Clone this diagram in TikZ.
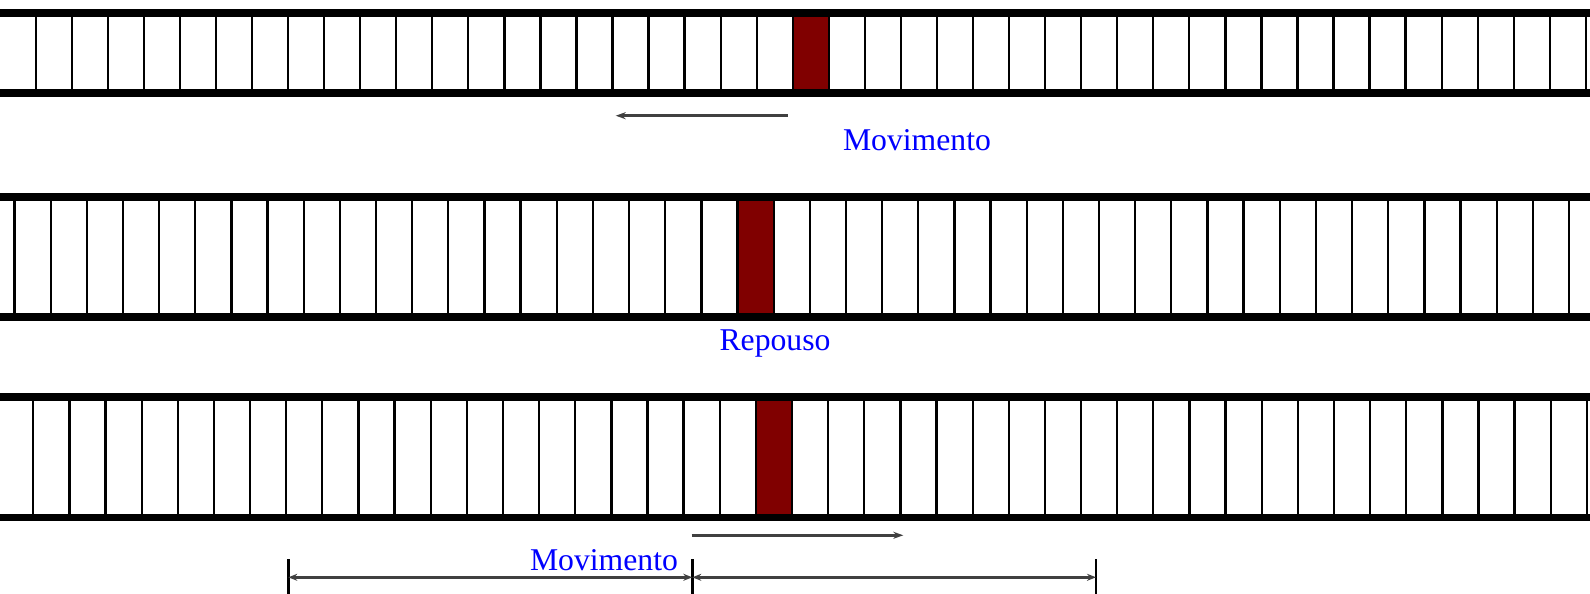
\documentclass[tikz,border=0pt]{standalone}
\usepackage{fontspec}
\setmainfont{Liberation Serif}
\usetikzlibrary{arrows.meta}
\definecolor{cellred}{RGB}{128,0,0}
\definecolor{arrgray}{RGB}{64,64,64}
\definecolor{lblue}{RGB}{0,0,255}
\tikzset{
 bar/.style={line width=7.6pt},
 rung/.style={line width=2.3pt},
 mover/.style={arrgray, line width=2.5pt, -{Stealth[length=10pt,width=7pt]}},
 dimline/.style={arrgray, line width=2.5pt, {Stealth[length=9pt,width=7pt]}-{Stealth[length=9pt,width=7pt]}},
 dimtick/.style={line width=2.8pt},
 lbl/.style={text=lblue, font=\fontsize{31.7}{34}\selectfont, inner sep=0pt, anchor=base},
}
\begin{document}
\begin{tikzpicture}[x=1pt,y=-1pt]
\useasboundingbox (0,0) rectangle (1590,594);
\foreach \top/\bot/\xo/\dx/\red in {13/93/35.7/36.05/21, 197.2/317/14.5/36.15/20, 397.2/517.3/33.3/36.13/20} {
  \fill[cellred] (\xo+\red*\dx, \top) rectangle (\xo+\red*\dx+\dx, \bot);
  \foreach \k in {0,...,43} \draw[rung] (\xo+\k*\dx,\top) -- (\xo+\k*\dx,\bot);
  \draw[bar] (0,\top) -- (1590,\top);
  \draw[bar] (0,\bot) -- (1590,\bot);
}
% labels
\node[lbl] (mov1) at (917,150) {Movimento};
\node[lbl] (rep) at (775,350) {Repouso};
\node[lbl] (mov3) at (604,570) {Movimento};
% motion arrows
\coordinate (a1s) at (787.7,115.7);
\coordinate (a1e) at (615.7,115.7);
\draw[mover] (a1s) -- (a1e);
\coordinate (a3s) at (691.7,535.3);
\coordinate (a3e) at (903.3,535.3);
\draw[mover] (a3s) -- (a3e);
% dimension ticks
\coordinate (t1a) at (288.3,559); \coordinate (t1b) at (288.3,594);
\coordinate (t2a) at (692.3,559); \coordinate (t2b) at (692.3,594);
\coordinate (t3a) at (1096,559);  \coordinate (t3b) at (1096,594);
\draw[dimtick] (t1a) -- (t1b);
\draw[dimtick] (t2a) -- (t2b);
\draw[dimtick] (t3a) -- (t3b);
\coordinate (d1) at (288.3,577.3);
\coordinate (d2) at (692.3,577.3);
\coordinate (d3) at (1096,577.3);
\draw[dimline] (d1) -- (d2);
\draw[dimline] (d2) -- (d3);
\end{tikzpicture}
\end{document}
